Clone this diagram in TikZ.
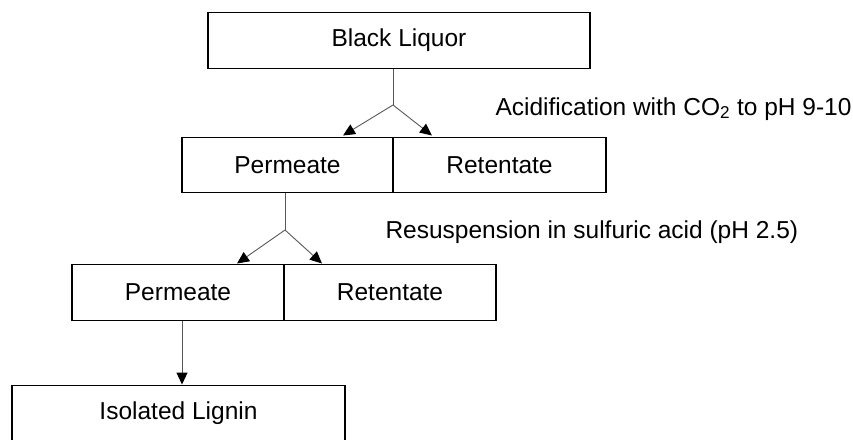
\documentclass[tikz,border=0pt]{standalone}
\usepackage{fontspec}
\setmainfont{Liberation Sans}
\usepackage{xcolor}
\colorlet{LinkGray}{black!65}
\usetikzlibrary{arrows.meta}

\tikzset{
  box/.style={draw, line width=1.4pt, rectangle, inner sep=0pt,
    minimum height=55.5pt},
  link/.style={draw=LinkGray, line width=0.9pt,
    -{Triangle[length=12pt, width=11pt, black]}},
  stem/.style={draw=LinkGray, line width=0.9pt},
}

\begin{document}
\begin{tikzpicture}[x=1pt, y=-1pt, font=\fontsize{24.5}{29}\selectfont]

\useasboundingbox (0, 0) rectangle (853, 439);
\clip (0, 0) rectangle (853, 439);

\node[box, minimum width=382pt] (liquor) at (399, 40.5) {Black Liquor};
\node[box, minimum width=211pt] (permA) at (287.5, 165) {Permeate};
\node[box, minimum width=213pt] (retA) at (499.5, 165) {Retentate};
\node[box, minimum width=212pt] (permB) at (178, 292.5) {Permeate};
\node[box, minimum width=212pt] (retB) at (390, 292.5) {Retentate};
\node[box, minimum width=333pt] (lignin) at (178.5, 413) {Isolated Lignin};

\coordinate (splitA) at (393, 105);
\coordinate (splitB) at (285, 230);

\draw[stem] (splitA |- liquor.south) -- (splitA);
\draw[link] (splitA) -- (343, 135.5);
\draw[link] (splitA) -- (432, 135.5);

\draw[stem] (splitB |- permA.south) -- (splitB);
\draw[link] (splitB) -- (237, 263.5);
\draw[link] (splitB) -- (322, 263.5);

\draw[link] (182, 0 |- permB.south) -- (182, 0 |- lignin.north);

\node[anchor=base west] (acid) at (492, 115) {Acidification with CO\textsubscript{2} to pH 9-10};
\node[anchor=base west] (resusp) at (382, 238) {Resuspension in sulfuric acid (pH 2.5)};

\end{tikzpicture}
\end{document}
